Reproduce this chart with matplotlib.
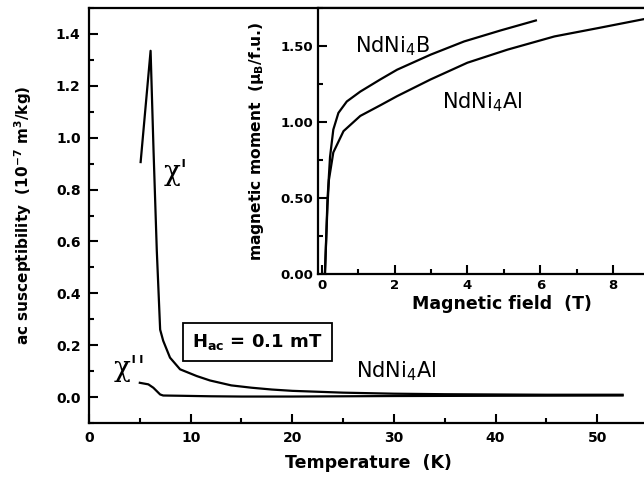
import numpy as np
import matplotlib
matplotlib.use("Agg")
import matplotlib.pyplot as plt
from matplotlib.ticker import MultipleLocator

# ac susceptibility of NdNi4Al (main panel)
T_chi1 = [5.08, 6.06, 6.35, 6.67, 7.0, 7.3, 7.97, 8.96, 10.6, 11.9, 14.0, 16.0,
          18.0, 20.0, 25.0, 30.0, 35.0, 40.0, 45.0, 52.5]
chi1 = [0.906, 1.335, 0.95, 0.565, 0.26, 0.217, 0.152, 0.107, 0.081, 0.064, 0.045,
        0.036, 0.029, 0.024, 0.017, 0.013, 0.011, 0.010, 0.009, 0.009]
T_chi2 = [5.0, 5.84, 6.33, 7.0, 7.3, 9.0, 12.0, 15.0, 20.0, 25.0, 30.0, 40.0, 52.5]
chi2 = [0.055, 0.049, 0.036, 0.010, 0.006, 0.005, 0.003, 0.002, 0.002, 0.003, 0.004,
        0.005, 0.006]

# magnetisation curves (inset)
B_nb = [0.09, 0.16, 0.23, 0.32, 0.46, 0.69, 1.06, 1.61, 2.07, 2.99, 3.91, 4.92, 5.88]
M_nb = [0.0, 0.49, 0.77, 0.95, 1.06, 1.135, 1.20, 1.28, 1.344, 1.443, 1.53, 1.603, 1.668]
B_na = [0.09, 0.16, 0.2, 0.32, 0.60, 1.06, 1.61, 2.07, 2.99, 4.0, 5.1, 6.39, 7.59, 8.87]
M_na = [0.0, 0.45, 0.62, 0.80, 0.94, 1.04, 1.11, 1.17, 1.28, 1.39, 1.476, 1.563,
        1.618, 1.678]

T_ticks = [0, 10, 20, 30, 40, 50]
chi_ticks = [0.0, 0.2, 0.4, 0.6, 0.8, 1.0, 1.2, 1.4]
B_ticks = [0, 2, 4, 6, 8]
M_ticks = [0.0, 0.5, 1.0, 1.5]

plt.rcParams["font.family"] = ["DejaVu Sans"]
plt.rcParams["mathtext.default"] = "regular"

fig = plt.figure(figsize=(6.44, 4.82), dpi=100)
ax = fig.add_axes([0.1382, 0.1224, 0.868, 0.861])
ins = fig.add_axes([0.4938, 0.4315, 0.5714, 0.5519])

for a in (ax, ins):
    for s in a.spines.values():
        s.set_linewidth(1.6)
    a.tick_params(which="both", direction="in", width=1.5)
    a.tick_params(which="major", length=6.5)
    a.tick_params(which="minor", length=3.6)

# main panel
ax.plot(T_chi1, chi1, color="black", lw=1.6)
ax.plot(T_chi2, chi2, color="black", lw=1.6)
ax.set_xlim(0, 55)
ax.set_ylim(-0.1, 1.5)
ax.set_xticks(T_ticks)
ax.set_xticklabels([str(t) for t in T_ticks], fontweight="bold", fontsize=10)
ax.xaxis.set_minor_locator(MultipleLocator(5))
ax.set_yticks(chi_ticks)
ax.set_yticklabels([f"{v:.1f}" for v in chi_ticks], fontweight="bold", fontsize=10)
ax.yaxis.set_minor_locator(MultipleLocator(0.1))
ax.tick_params(which="major", pad=6)
ax.set_xlabel("Temperature  (K)", fontweight="bold", fontsize=12.5, labelpad=6)
ax.set_ylabel(r"ac susceptibility  (10$^{\mathbf{-7}}$ m$^{\mathbf{3}}$/kg)",
              fontweight="bold", fontsize=11, labelpad=16)

ax.text(8.56, 0.866, "χ'", fontsize=20, family="DejaVu Serif", ha="center", va="center")
ax.text(4.0, 0.112, "χ''", fontsize=20, family="DejaVu Serif", ha="center", va="center")
ax.text(16.6, 0.211, r"H$_{\mathbf{ac}}$ = 0.1 mT", fontsize=13, fontweight="bold",
        ha="center", va="center",
        bbox=dict(boxstyle="square,pad=0.5", fc="white", ec="black", lw=1.3))
ax.text(30.2, 0.075, r"NdNi$_4$Al", fontsize=15, ha="center", va="baseline")

# inset
ins.set_zorder(3)
ins.patch.set_facecolor("white")
ins.plot(B_nb, M_nb, color="black", lw=1.6)
ins.plot(B_na, M_na, color="black", lw=1.6)
ins.set_xlim(-0.1, 10.0)
ins.set_ylim(0, 1.75)
ins.set_xticks(B_ticks)
ins.set_xticklabels([str(b) for b in B_ticks], fontweight="bold", fontsize=9.5)
ins.xaxis.set_minor_locator(MultipleLocator(1))
ins.set_yticks(M_ticks)
ins.set_yticklabels([f"{m:.2f}" for m in M_ticks], fontweight="bold", fontsize=9.5)
ins.yaxis.set_minor_locator(MultipleLocator(0.25))
ins.set_xlabel("Magnetic field  (T)", fontweight="bold", fontsize=12.5, labelpad=2)
ins.set_ylabel(r"magnetic moment  ($\mathbf{\mu}_{\mathbf{B}}$/f.u.)",
               fontweight="bold", fontsize=11.2, labelpad=10)
ins.text(1.96, 1.458, r"NdNi$_4$B", fontsize=15, ha="center", va="baseline")
ins.text(4.41, 1.092, r"NdNi$_4$Al", fontsize=15, ha="center", va="baseline")

fig.savefig("out.png", dpi=100)
